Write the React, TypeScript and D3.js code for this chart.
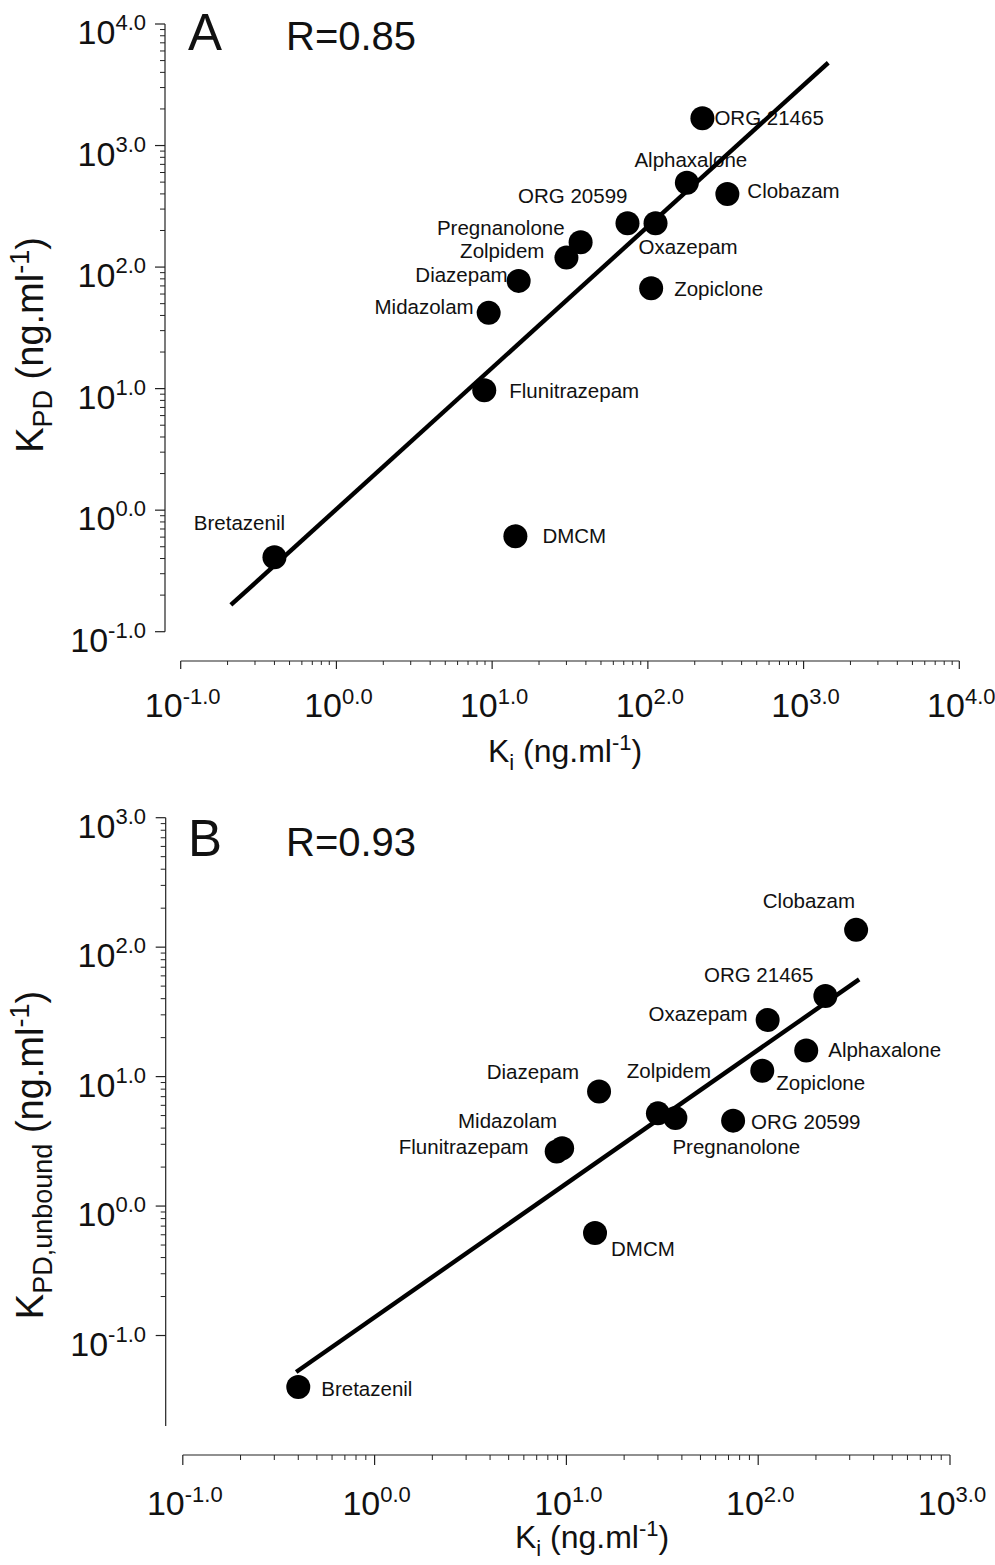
import React from 'react';
import * as d3 from 'd3';

// drug names, shared by both panels
const drugs = ['ORG 21465', 'Alphaxalone', 'Clobazam', 'ORG 20599', 'Oxazepam', 'Pregnanolone',
  'Zolpidem', 'Diazepam', 'Zopiclone', 'Midazolam', 'Flunitrazepam', 'Bretazenil', 'DMCM'];
// Ki (ng/ml)
const ki = [224, 178, 324, 74, 112, 37, 30, 14.8, 105, 9.5, 8.9, 0.4, 14.1];
// KPD (ng/ml), panel A
const kpd = [1675, 494, 399, 229, 229, 160, 120, 77, 67, 42, 9.7, 0.41, 0.61];
// KPD,unbound (ng/ml), panel B
const kpdUnbound = [42, 15.9, 136, 4.57, 27.4, 4.78, 5.2, 7.66, 11.1, 2.8, 2.64, 0.04, 0.62];

// regression lines in log10 space: log y = a + b log x
const fitA = { a: 0.008, b: 1.163, from: 0.21, to: 1440 };
const fitB = { a: -0.859, b: 1.033, from: 0.39, to: 336 };

const rA = 'R=0.85';
const rB = 'R=0.93';

const xTicksA = [0.1, 1, 10, 100, 1000, 10000];
const yTicksA = [0.1, 1, 10, 100, 1000, 10000];
const xTicksB = [0.1, 1, 10, 100, 1000];
const yTicksB = [0.1, 1, 10, 100, 1000];

// label placement (dx, dy, anchor) per drug
type LP = [number, number, string];
const labelPosA: LP[] = [
  [12, 7, 'start'], [4, -16, 'middle'], [20, 4, 'start'], [0, -20, 'end'], [-17, 31, 'start'],
  [-16, -7, 'end'], [-22, 1, 'end'], [-11, 1, 'end'], [23, 8, 'start'], [-15, 1, 'end'],
  [25, 8, 'start'], [-35, -27, 'middle'], [27, 7, 'start'],
];
const labelPosB: LP[] = [
  [-12, -14, 'end'], [22, 6, 'start'], [-1, -22, 'end'], [18, 8, 'start'], [-20, 1, 'end'],
  [-3, 36, 'start'], [11, -35, 'middle'], [-20, -13, 'end'], [14, 19, 'start'], [-5, -20, 'end'],
  [-28, 3, 'end'], [23, 9, 'start'], [16, 23, 'start'],
];

const FONT = '"Liberation Sans", Arial, Helvetica, sans-serif';
const AXIS = '#222';

function expLabel(v: number) {
  return Math.round(Math.log10(v)).toFixed(1);
}

function minorTicks(domain: [number, number]) {
  const out: number[] = [];
  for (let e = Math.floor(Math.log10(domain[0])); e < Math.ceil(Math.log10(domain[1])); e++) {
    for (let m = 2; m <= 9; m++) {
      const v = m * Math.pow(10, e);
      if (v > domain[0] && v < domain[1] && v >= 0.1) out.push(v);
    }
  }
  return out;
}

type PanelProps = {
  x: d3.ScaleLogarithmic<number, number>;
  y: d3.ScaleLogarithmic<number, number>;
  yVals: number[];
  fit: { a: number; b: number; from: number; to: number };
  xTicks: number[];
  yTicks: number[];
  axisX: number;
  axisY: number;
  xMajor: number;
  xMinor: number;
  xLabelDy: number;
  letter: string;
  letterY: number;
  r: string;
  labels: LP[];
  xTitleX: number;
  xTitleY: number;
  yTitleY: number;
  yTitleSub: string;
};

function Panel(p: PanelProps) {
  const { x, y } = p;
  const [x0, x1] = x.range();
  const [y0, y1] = y.range();
  const line = d3.line<number>()
    .x(d => x(d))
    .y(d => y(Math.pow(10, p.fit.a + p.fit.b * Math.log10(d))));
  return (
    <g>
      {/* y axis */}
      <line x1={p.axisX} x2={p.axisX} y1={y0} y2={y1} stroke={AXIS} strokeWidth={1.2} />
      {minorTicks(y.domain() as [number, number]).map((v, i) => (
        <line key={'ym' + i} x1={p.axisX - 5} x2={p.axisX} y1={y(v)} y2={y(v)} stroke={AXIS} strokeWidth={1} />
      ))}
      {p.yTicks.map((v, i) => (
        <g key={'yt' + i}>
          <line x1={p.axisX - 10} x2={p.axisX} y1={y(v)} y2={y(v)} stroke={AXIS} strokeWidth={1.2} />
          <text x={146} y={y(v) + 20} textAnchor="end" fontFamily={FONT} fontSize={34} fill="#111">
            10<tspan dy={-14} fontSize={22}>{expLabel(v)}</tspan>
          </text>
        </g>
      ))}
      {/* x axis */}
      <line x1={x0} x2={x1} y1={p.axisY} y2={p.axisY} stroke={AXIS} strokeWidth={1.2} />
      {minorTicks(x.domain() as [number, number]).map((v, i) => (
        <line key={'xm' + i} x1={x(v)} x2={x(v)} y1={p.axisY} y2={p.axisY + p.xMinor} stroke={AXIS} strokeWidth={1} />
      ))}
      {p.xTicks.map((v, i) => (
        <g key={'xt' + i}>
          <line x1={x(v)} x2={x(v)} y1={p.axisY} y2={p.axisY + p.xMajor} stroke={AXIS} strokeWidth={1.2} />
          <text x={x(v) + 2} y={p.axisY + p.xLabelDy} textAnchor="middle" fontFamily={FONT} fontSize={34} fill="#111">
            10<tspan dy={-13} fontSize={22}>{expLabel(v)}</tspan>
          </text>
        </g>
      ))}
      {/* titles */}
      <text x={p.xTitleX} y={p.xTitleY} textAnchor="middle" fontFamily={FONT} fontSize={32} fill="#111">
        K<tspan dy={8} fontSize={22}>i</tspan>
        <tspan dy={-8}> (ng.ml</tspan>
        <tspan dy={-12} fontSize={22}>-1</tspan>
        <tspan dy={12}>)</tspan>
      </text>
      <text transform={`translate(43,${p.yTitleY}) rotate(-90)`} textAnchor="middle" fontFamily={FONT} fontSize={38} fill="#111">
        K<tspan dy={9} fontSize={27}>{p.yTitleSub}</tspan>
        <tspan dy={-9}> (ng.ml</tspan>
        <tspan dy={-14} fontSize={27}>-1</tspan>
        <tspan dy={14}>)</tspan>
      </text>
      <text x={188} y={p.letterY} fontFamily={FONT} fontSize={51} fill="#111">{p.letter}</text>
      <text x={286} y={p.letterY} fontFamily={FONT} fontSize={40} fill="#111">{p.r}</text>
      {/* labels */}
      {drugs.map((d, i) => (
        <text key={'l' + i} x={x(ki[i]) + p.labels[i][0]} y={y(p.yVals[i]) + p.labels[i][1]}
          textAnchor={p.labels[i][2] as any} fontFamily={FONT} fontSize={20.5} fill="#111">{d}</text>
      ))}
      {/* regression */}
      <path d={line([p.fit.from, p.fit.to]) || ''} stroke="#000" strokeWidth={4.4} fill="none" />
      {/* points */}
      {ki.map((k, i) => (
        <circle key={'c' + i} cx={x(k)} cy={y(p.yVals[i])} r={12} fill="#000" />
      ))}
    </g>
  );
}

export default function App() {
  const xA = d3.scaleLog().domain([0.1, 10000]).range([180.7, 959.3]);
  const yA = d3.scaleLog().domain([0.1, 10000]).range([631.7, 24]);
  const xB = d3.scaleLog().domain([0.1, 1000]).range([182.8, 950]);
  const yB = d3.scaleLog().domain([0.02, 1000]).range([1426, 817.7]);
  return (
    <svg width={995} height={1565} style={{ position: 'absolute', left: 0, top: 0, background: '#fff' }}>
      <rect width={995} height={1565} fill="#fff" />
      <Panel x={xA} y={yA} yVals={kpd} fit={fitA} xTicks={xTicksA} yTicks={yTicksA}
        axisX={165} axisY={661} xMajor={8} xMinor={4} xLabelDy={56} letter="A" letterY={50} r={rA}
        labels={labelPosA} xTitleX={565} xTitleY={762} yTitleY={345} yTitleSub="PD" />
      <Panel x={xB} y={yB} yVals={kpdUnbound} fit={fitB} xTicks={xTicksB} yTicks={yTicksB}
        axisX={165.7} axisY={1455} xMajor={10} xMinor={5} xLabelDy={60} letter="B" letterY={856} r={rB}
        labels={labelPosB} xTitleX={592} xTitleY={1548} yTitleY={1155} yTitleSub="PD,unbound" />
    </svg>
  );
}
